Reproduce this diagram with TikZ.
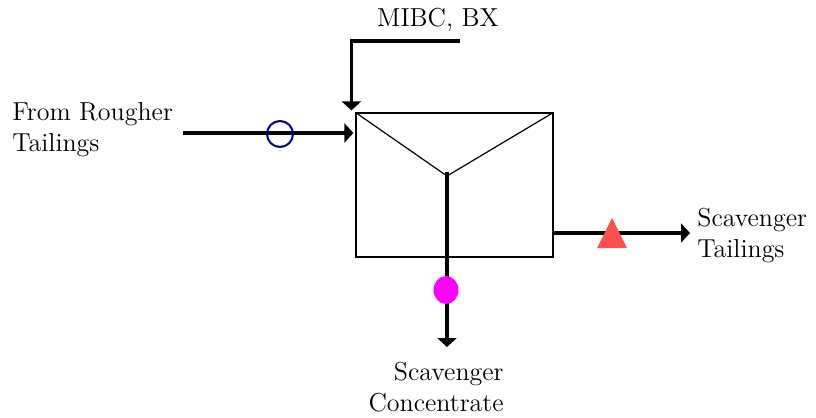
\documentclass[tikz,border=0pt]{standalone}
\usetikzlibrary{positioning,shapes.geometric,arrows.meta}
\definecolor{feednavy}{RGB}{0,0,128}
\definecolor{tailred}{RGB}{255,80,80}
\definecolor{concpink}{RGB}{255,0,255}

\begin{document}
\begin{tikzpicture}[x=0.5pt, y=-0.5pt,
  cell/.style={draw=black, line width=0.6pt, minimum width=98.5pt, minimum height=72pt, inner sep=0pt},
  flow/.style={line width=1.6pt, -{Triangle[width=9.5pt, length=4.5pt]}},
  label/.style={font=\fontsize{13}{15.5}\selectfont, inner sep=0pt},
]
\useasboundingbox (0,0) rectangle (816,418);
\node[cell] (cell) at (454.5,185) {};
\coordinate (apex) at (447,176);
\draw[line width=0.6pt] (cell.north west) -- (apex) -- (cell.north east);

\coordinate (feedin) at (183,133);
\coordinate (reagent) at (460,41);
\coordinate (concout) at (447,347);
\coordinate (tailout) at (690,233);
\coordinate (tri) at (612,233);

\node[label, align=left, anchor=west] (feed) at (12,130) {From Rougher\\Tailings};
\node[label] (mibc) at (438,20) {MIBC, BX};
\node[label, align=right, anchor=north east] (conc) at (504,362) {Scavenger\\Concentrate};
\node[label, align=left, anchor=west] (tails) at (697,236) {Scavenger\\Tailings};

\draw[flow] (feedin) -- ([xshift=-1]cell.west |- feedin);
\draw[flow] (reagent) -| ([shift={(-4,-2)}]cell.north west);
\draw[flow] ([yshift=2]apex) -- (concout);
\draw[flow] (cell.east |- tailout) -- (tailout);

\node[circle, draw=feednavy, line width=1pt, minimum size=13pt, inner sep=0pt] (feedmark) at (280,134) {};
\node[ellipse, fill=concpink, minimum width=12.5pt, minimum height=14pt, inner sep=0pt] (concmark) at (446,290) {};
\fill[tailred] ([shift={(-15,15)}]tri) -- ([shift={(15,15)}]tri) -- ([shift={(0,-15)}]tri) -- cycle;
\end{tikzpicture}
\end{document}
